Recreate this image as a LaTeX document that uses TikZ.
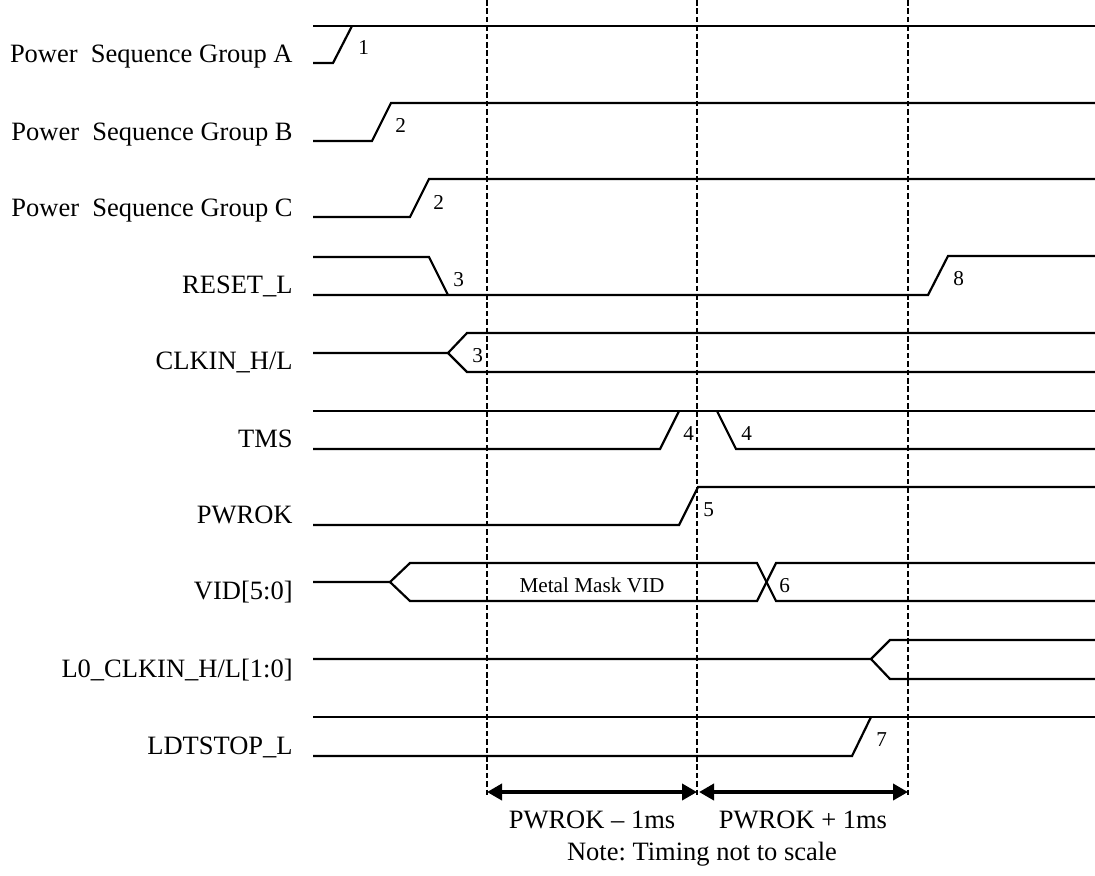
\documentclass[tikz,border=0pt]{standalone}
\usepackage{fontspec}
\setmainfont{Liberation Serif}
\usetikzlibrary{arrows.meta}
\frenchspacing
\begin{document}
\begin{tikzpicture}[x=0.5pt,y=-0.5pt,
  sig/.style={line width=1.1pt, line join=miter},
  guide/.style={line width=1.25pt, dash pattern=on 2.8pt off 1.4pt},
  span/.style={line width=1.9pt, {Triangle[length=7.5pt,width=8pt]}-{Triangle[length=7.5pt,width=8pt]}},
  lbl/.style={anchor=base east, inner sep=0pt, font=\fontsize{13.25}{16}\selectfont},
  num/.style={anchor=base west, inner sep=0pt, font=\fontsize{10.6}{13}\selectfont},
  note/.style={anchor=base, inner sep=0pt, font=\fontsize{13.25}{16}\selectfont}]
\useasboundingbox (0,0) rectangle (1095,875);

% signal labels
\node[lbl] (lA) at (293,62) {Power\ \ Sequence Group A};
\node[lbl] (lB) at (293,140) {Power\ \ Sequence Group B};
\node[lbl] (lC) at (293,216) {Power\ \ Sequence Group C};
\node[lbl] (lR) at (293,293) {RESET\_L};
\node[lbl] (lK) at (293,369) {CLKIN\_H/L};
\node[lbl] (lT) at (293,447) {TMS};
\node[lbl] (lP) at (293,523) {PWROK};
\node[lbl] (lV) at (293,599) {VID[5:0]};
\node[lbl] (lL) at (293,677) {L0\_CLKIN\_H/L[1:0]};
\node[lbl] (lD) at (293,754) {LDTSTOP\_L};

% Group A
\draw[sig] (313,26) -- (1095,26);
\draw[sig] (313,63) -- (333,63) -- (352,26);
% Group B
\draw[sig] (313,141) -- (372,141) -- (391,103) -- (1095,103);
% Group C
\draw[sig] (313,217) -- (410,217) -- (429,179) -- (1095,179);
% RESET_L
\draw[sig] (313,257) -- (429,257) -- (448,295);
\draw[sig] (313,295) -- (928,295) -- (948,256) -- (1095,256);
% CLKIN_H/L
\draw[sig] (313,353) -- (448,353) -- (467,333) -- (1095,333);
\draw[sig] (448,353) -- (467,372) -- (1095,372);
% TMS
\draw[sig] (313,411) -- (1095,411);
\draw[sig] (313,449) -- (660,449) -- (679,411);
\draw[sig] (717,411) -- (736,449) -- (1095,449);
% PWROK
\draw[sig] (313,525) -- (679,525) -- (698,487) -- (1095,487);
% VID[5:0]
\draw[sig] (313,582) -- (390,582) -- (410,563) -- (757,563) -- (776,601) -- (1095,601);
\draw[sig] (390,582) -- (410,601) -- (757,601) -- (776,563) -- (1095,563);
% L0_CLKIN_H/L[1:0]
\draw[sig] (313,659) -- (871,659) -- (890,640) -- (1095,640);
\draw[sig] (871,659) -- (890,679) -- (1095,679);
% LDTSTOP_L
\draw[sig] (313,717) -- (1095,717);
\draw[sig] (313,756) -- (852,756) -- (871,717);

% event numbers
\node[num] (n1) at (358,54) {1};
\node[num] (n2a) at (395,132) {2};
\node[num] (n2b) at (433,209) {2};
\node[num] (n3a) at (453,286) {3};
\node[num] (n3b) at (472,362) {3};
\node[num] (n4a) at (683,440) {4};
\node[num] (n4b) at (741,440) {4};
\node[num] (n5) at (703,516) {5};
\node[num] (n6) at (779,592) {6};
\node[num] (n7) at (876,746) {7};
\node[num] (n8) at (953,285) {8};
\node[anchor=base, inner sep=0pt, font=\fontsize{10.6}{13}\selectfont] (mm) at (592,592) {Metal Mask VID};

% guide lines
\coordinate (g1t) at (487,0);  \coordinate (g1b) at (487,797);
\coordinate (g2t) at (697,0);  \coordinate (g2b) at (697,797);
\coordinate (g3t) at (908,0);  \coordinate (g3b) at (908,797);
\draw[guide] (g1t) -- (g1b);
\draw[guide] (g2t) -- (g2b);
\draw[guide] (g3t) -- (g3b);

\coordinate (a1) at (487,792);
\coordinate (a2) at (697,792);
\coordinate (a2r) at (699,792);
\coordinate (a3) at (908,792);
\draw[span] (a1) -- (a2);
\draw[span] (a2r) -- (a3);

\node[note] (t1) at (592,828) {PWROK – 1ms};
\node[note] (t2) at (803,828) {PWROK + 1ms};
\node[note] (t3) at (702,860) {Note: Timing not to scale};
\end{tikzpicture}
\end{document}
